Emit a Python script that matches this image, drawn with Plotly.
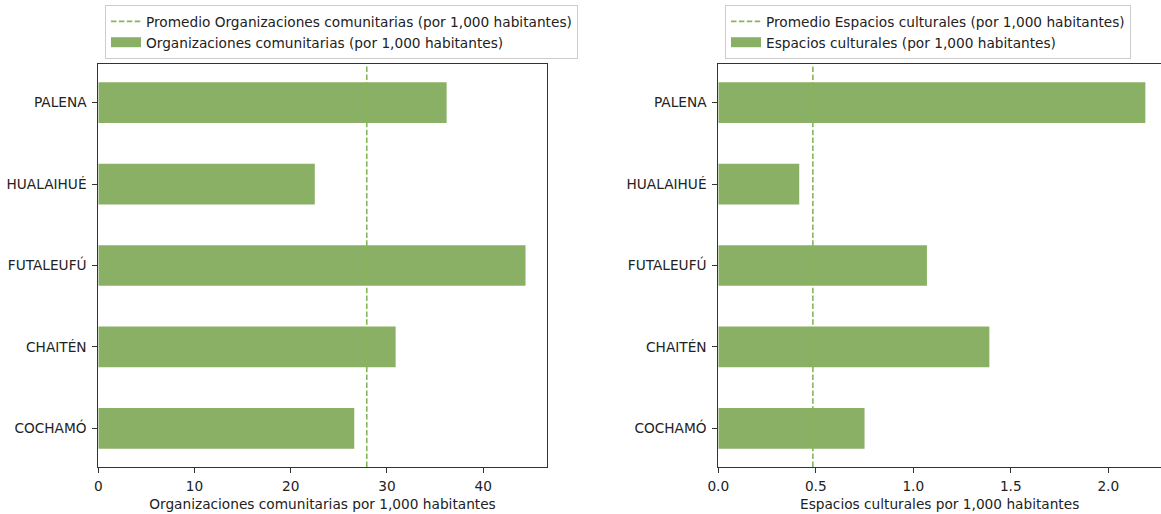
import plotly.graph_objects as go

comunas = ["COCHAMÓ", "CHAITÉN", "FUTALEUFÚ", "HUALAIHUÉ", "PALENA"]
org_values = [26.6, 30.9, 44.4, 22.5, 36.2]
org_mean = 27.9
esp_values = [0.75, 1.39, 1.07, 0.415, 2.19]
esp_mean = 0.485

org_ticks = [0, 10, 20, 30, 40]
esp_ticks = [0.0, 0.5, 1.0, 1.5, 2.0]
esp_ticktext = ["0.0", "0.5", "1.0", "1.5", "2.0"]

BAR = "#8AB065"
LINE = "#86B55A"
AX = "#333333"
FONT = "DejaVu Sans"
FS = 13.7
W, H = 1161, 514
DASH = "5.5px,2.4px"

fig = go.Figure()


def add_panel(xa, ya, lg, values, mean_name, bar_name):
    # legend entries (line first, then bar patch)
    fig.add_trace(go.Scatter(x=[None], y=[None], mode="lines",
                             line=dict(color=LINE, dash=DASH, width=1.6),
                             name=mean_name, xaxis=xa, yaxis=ya, legend=lg))
    fig.add_trace(go.Scatter(x=[None], y=[None], mode="lines",
                             line=dict(color=BAR, width=10),
                             name=bar_name, xaxis=xa, yaxis=ya, legend=lg))
    fig.add_trace(go.Bar(x=values, y=comunas, orientation="h", width=0.5,
                         marker=dict(color=BAR, line=dict(width=0)),
                         name=bar_name, showlegend=False,
                         xaxis=xa, yaxis=ya))


add_panel("x", "y", "legend", org_values,
          "Promedio Organizaciones comunitarias (por 1,000 habitantes)",
          "Organizaciones comunitarias (por 1,000 habitantes)")
add_panel("x2", "y2", "legend2", esp_values,
          "Promedio Espacios culturales (por 1,000 habitantes)",
          "Espacios culturales (por 1,000 habitantes)")

fig.add_shape(type="line", xref="x", yref="y domain", x0=org_mean, x1=org_mean, y0=0, y1=1,
              line=dict(color=LINE, dash=DASH, width=1.6))
fig.add_shape(type="line", xref="x2", yref="y2 domain", x0=esp_mean, x1=esp_mean, y0=0, y1=1,
              line=dict(color=LINE, dash=DASH, width=1.6))

ydom = [(514 - 467) / H, (514 - 64) / H]

tf = dict(family=FONT, size=FS, color="#222")
common_x = dict(showgrid=False, zeroline=False, showline=True, linecolor=AX, linewidth=1,
                ticks="outside", ticklen=5, tickcolor=AX, tickfont=tf,
                automargin=False, ticklabelstandoff=2)
common_y = dict(showgrid=False, zeroline=False, showline=True, linecolor=AX, linewidth=1,
                ticks="outside", ticklen=5, tickcolor=AX, tickfont=tf,
                automargin=False, type="category", categoryorder="array", categoryarray=comunas,
                range=[-0.475, 4.475], ticklabelstandoff=3)

legend_common = dict(yanchor="top", xanchor="left", y=1 - 5 / H,
                     bgcolor="white", bordercolor="#CCCCCC", borderwidth=1,
                     font=tf, itemwidth=30, tracegroupgap=0)

fig.update_layout(
    width=W, height=H,
    margin=dict(l=0, r=0, t=0, b=0),
    plot_bgcolor="white", paper_bgcolor="white",
    font=tf,
    xaxis=dict(**common_x, domain=[98.3 / W, 546.7 / W], range=[0, 46.6], mirror=True,
               tickvals=org_ticks, anchor="y",
               title=dict(text="Organizaciones comunitarias por 1,000 habitantes", font=tf, standoff=5)),
    yaxis=dict(**common_y, domain=ydom, mirror=True, anchor="x"),
    xaxis2=dict(**common_x, domain=[718.3 / W, 1.0], range=[0, (1161 - 718.3) / 195.0], mirror=True,
                tickvals=esp_ticks, ticktext=esp_ticktext, anchor="y2",
                title=dict(text="Espacios culturales por 1,000 habitantes", font=tf, standoff=5)),
    yaxis2=dict(**common_y, domain=ydom, mirror=False, anchor="x2"),
    legend=dict(**legend_common, x=105 / W),
    legend2=dict(**legend_common, x=725 / W),
)

fig.write_html("out.html", config={"displayModeBar": False},
               post_script="document.body.style.margin='0';document.body.style.overflow='hidden';")
